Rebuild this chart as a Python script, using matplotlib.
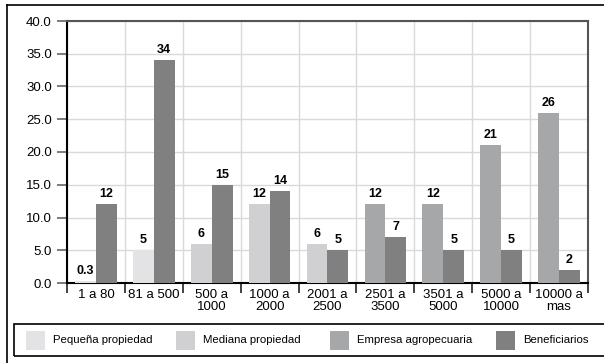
import matplotlib
matplotlib.use("Agg")
import matplotlib.pyplot as plt
from matplotlib.patches import Rectangle
from matplotlib.lines import Line2D

plt.rcParams['font.family'] = ['Liberation Sans', 'DejaVu Sans']

# hectare ranges
categories = ["1 a 80", "81 a 500", "500 a\n1000", "1000 a\n2000", "2001 a\n2500",
              "2501 a\n3500", "3501 a\n5000", "5000 a\n10000", "10000 a\nmas"]
# share of land per range, and which kind of property it belongs to
tierra = [0.3, 5, 6, 12, 6, 12, 12, 21, 26]
tipo = [0, 0, 1, 1, 1, 2, 2, 2, 2]
beneficiarios = [12, 34, 15, 14, 5, 7, 5, 5, 2]

series_names = ["Pequeña propiedad", "Mediana propiedad", "Empresa agropecuaria", "Beneficiarios"]
colors = ["#e3e3e5", "#d0d0d2", "#a6a7a9", "#808080"]

W, H = 604, 363
fig = plt.figure(figsize=(W / 100, H / 100), dpi=100)

def fx(px):
    return px / W

def fy(py):
    return 1 - py / H

ax = fig.add_axes([fx(67), fy(283), fx(588 - 67), (283 - 21) / H])

bw = 0.36
xs = range(len(categories))
for i in xs:
    ax.bar(i - bw / 2, tierra[i], width=bw, color=colors[tipo[i]], zorder=3)
    ax.bar(i + bw / 2, beneficiarios[i], width=bw, color=colors[3], zorder=3)
    ax.annotate(f"{tierra[i]:g}", (i - bw / 2, tierra[i]), xytext=(0, 3),
                textcoords="offset points", ha="center", va="bottom",
                fontsize=9, fontweight="bold")
    ax.annotate(f"{beneficiarios[i]:g}", (i + bw / 2, beneficiarios[i]), xytext=(0, 3),
                textcoords="offset points", ha="center", va="bottom",
                fontsize=9, fontweight="bold")

ax.set_xlim(-0.5, len(categories) - 0.5)
ax.set_ylim(0, 40)
ax.set_yticks(range(0, 41, 5))
ax.set_yticklabels([f"{v:.1f}" for v in range(0, 41, 5)], fontsize=9.5)

# tick marks at range boundaries, labels centred on each range
ax.set_xticks([i - 0.5 for i in range(len(categories) + 1)])
ax.set_xticklabels([])
ax.set_xticks(list(xs), minor=True)
ax.set_xticklabels(categories, minor=True, fontsize=9.5, linespacing=1.05)
ax.tick_params(axis="x", which="minor", length=0, pad=4)
ax.tick_params(axis="x", which="major", length=7, width=1.2, color="#222222")
ax.tick_params(axis="y", length=7, width=1.2, color="#666666", pad=4)

ax.grid(True, which="major", color="#d9d9d9", linewidth=1.0, zorder=0)
ax.set_axisbelow(True)

ax.spines["left"].set_color("black")
ax.spines["bottom"].set_color("black")
ax.spines["left"].set_linewidth(1.5)
ax.spines["bottom"].set_linewidth(1.5)
ax.spines["top"].set_color("#555555")
ax.spines["right"].set_color("#555555")
ax.spines["top"].set_linewidth(1.5)
ax.spines["right"].set_linewidth(1.5)

# outer frame (left and top)
fig.add_artist(Line2D([fx(7.5), fx(7.5)], [fy(4.5), fy(363)], color="black", linewidth=1.2))
fig.add_artist(Line2D([fx(7.5), fx(604)], [fy(4.5), fy(4.5)], color="black", linewidth=1.2))

# legend box
fig.add_artist(Rectangle((fx(14), fy(356)), fx(604 - 14 + 5), (356 - 324) / H,
                         transform=fig.transFigure, facecolor="none",
                         edgecolor="black", linewidth=1.2))
swatch_x = [26, 176, 330, 496]
for sx, name, c in zip(swatch_x, series_names, colors):
    fig.add_artist(Rectangle((fx(sx), fy(350)), fx(19), 19 / H,
                             transform=fig.transFigure, facecolor=c, edgecolor="none"))
    fig.text(fx(sx + 27), fy(340), name, fontsize=8.2, va="center", ha="left")

fig.savefig("out.png", dpi=100)
